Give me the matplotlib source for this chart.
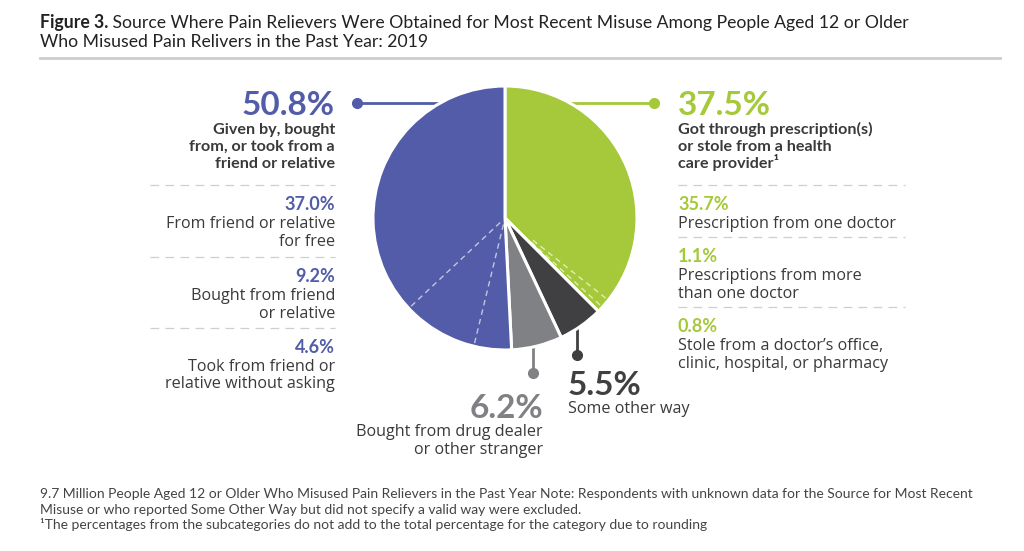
import matplotlib
matplotlib.use("Agg")
import matplotlib.pyplot as plt
import numpy as np

plt.rcParams['font.family'] = ['Lato', 'DejaVu Sans']

# data
categories = ["Got through prescription(s) or stole from a health care provider",
              "Some other way",
              "Bought from drug dealer or other stranger",
              "Given by, bought from, or took from a friend or relative"]
values = [37.5, 5.5, 6.2, 50.8]
colors = ["#a5c93a", "#404042", "#808184", "#525ca8"]

green_sub = [35.7, 1.1, 0.8]
green_sub_labels = ["Prescription from one doctor",
                    "Prescriptions from more\nthan one doctor",
                    "Stole from a doctor\u2019s office,\nclinic, hospital, or pharmacy"]
purple_sub = [4.6, 9.2, 37.0]   # clockwise order inside the slice
purple_sub_labels = {37.0: "From friend or relative\nfor free",
                     9.2: "Bought from friend\nor relative",
                     4.6: "Took from friend or\nrelative without asking"}

W, H = 1024, 551
fig = plt.figure(figsize=(W / 100, H / 100), dpi=100)
bg = fig.add_axes([0, 0, 1, 1])
bg.set_xlim(0, W)
bg.set_ylim(H, 0)
bg.axis('off')

# pie placement in pixels
cx, cy, r = 505, 218, 132
ax = fig.add_axes([(cx - r) / W, (H - cy - r) / H, 2 * r / W, 2 * r / H])
ax.set_zorder(2)
ax.patch.set_alpha(0)
wedges, _ = ax.pie(values, colors=colors, startangle=90, counterclock=False,
                   radius=1, wedgeprops=dict(edgecolor='white', linewidth=2.2))
ax.set_xlim(-1, 1)
ax.set_ylim(-1, 1)
ax.set_aspect('equal')

# dashed sub-category dividers
def divider(pct, r0):
    a = np.deg2rad(90 - pct / 100 * 360)
    ax.plot([r0 * np.cos(a), np.cos(a)], [r0 * np.sin(a), np.sin(a)],
            color='white', lw=1, ls=(0, (4, 3)), alpha=0.65, zorder=5)

c = 0
for v in green_sub[:-1]:
    c += v
    divider(c, 0.27)
c = sum(values[:3])
for v in purple_sub[:-1]:
    c += v
    divider(c, 0.05)

def lines(x, y0, s, step, **kw):
    for i, ln in enumerate(s.split('\n')):
        bg.text(x, y0 + i * step, ln, va='baseline', **kw)

# title
t1 = bg.text(40, 28, "Figure 3.", fontsize=12.7, fontweight='bold', color='#222222', va='baseline')
bg.annotate(" Source Where Pain Relievers Were Obtained for Most Recent Misuse Among People Aged 12 or Older",
            xy=(1, 0), xycoords=t1, va='bottom', fontsize=12.7, color='#222222')
bg.text(40, 47, "Who Misused Pain Relivers in the Past Year: 2019", fontsize=12.7, color='#222222', va='baseline')
bg.plot([40, 1000], [58, 58], color='#cccccc', lw=2)

purple, green, dark, grey = colors[3], colors[0], colors[1], colors[2]
txt = '#3a3a3a'
dash = dict(color='#cfcfcf', lw=0.9, ls=(0, (7, 5)))
reg = dict(fontsize=11.6, color=txt, family=['Open Sans', 'DejaVu Sans'])
pct = dict(fontsize=13, fontweight='bold')
big = dict(fontsize=24, fontweight='bold')
head = dict(fontsize=11.6, fontweight='bold', color=txt)

# leader lines
bg.plot([357, 450], [103, 103], color=purple, lw=2)
bg.plot(357, 103, 'o', color=purple, ms=7)
bg.plot([560, 654], [103, 103], color=green, lw=2)
bg.plot(654, 103, 'o', color=green, ms=7)
bg.plot([577, 577], [320, 355], color=dark, lw=2)
bg.plot(577, 355, 'o', color=dark, ms=7)
bg.plot([533, 533], [340, 373], color=grey, lw=2)
bg.plot(533, 373, 'o', color=grey, ms=7)

# left block
xr = 335
bg.text(xr, 115, "%.1f%%" % values[3], color=purple, ha='right', va='baseline', **big)
lines(xr, 134, "Given by, bought\nfrom, or took from a\nfriend or relative", 17, ha='right', **head)
ys = [185, 257, 328]
for y in ys:
    bg.plot([150, xr], [y, y], **dash)
for y, v in zip(ys, [37.0, 9.2, 4.6]):
    bg.text(xr, y + 25, "%.1f%%" % v, color=purple, ha='right', va='baseline', **pct)
    lines(xr, y + 43, purple_sub_labels[v], 17.5, ha='right', **reg)

# right block
xl = 678
bg.text(xl, 115, "%.1f%%" % values[0], color=green, ha='left', va='baseline', **big)
lines(xl, 134, "Got through prescription(s)\nor stole from a health\ncare provider\u00b9", 17, ha='left', **head)
ys = [185, 237, 307]
for y in ys:
    bg.plot([xl, 905], [y, y], **dash)
for y, v, lab in zip(ys, green_sub, green_sub_labels):
    bg.text(xl, y + 25, "%.1f%%" % v, color=green, ha='left', va='baseline', **pct)
    lines(xl, y + 43, lab, 17.5, ha='left', **reg)

# bottom labels
bg.text(568, 395, "%.1f%%" % values[1], color=dark, ha='left', va='baseline', **big)
lines(568, 413, "Some other way", 17.5, ha='left', **reg)
bg.text(543, 418, "%.1f%%" % values[2], color=grey, ha='right', va='baseline', **big)
lines(543, 436, "Bought from drug dealer\nor other stranger", 17.5, ha='right', **reg)

# footnote
foot = ("9.7 Million People Aged 12 or Older Who Misused Pain Relievers in the Past Year Note: Respondents "
        "with unknown data for the Source for Most Recent\nMisuse or who reported Some Other Way but did not "
        "specify a valid way were excluded.\n\u00b9The percentages from the subcategories do not add to the "
        "total percentage for the category due to rounding")
lines(40, 498, foot, 15.5, ha='left', fontsize=10.0, color='#444444')

fig.savefig("out.png", dpi=100)
